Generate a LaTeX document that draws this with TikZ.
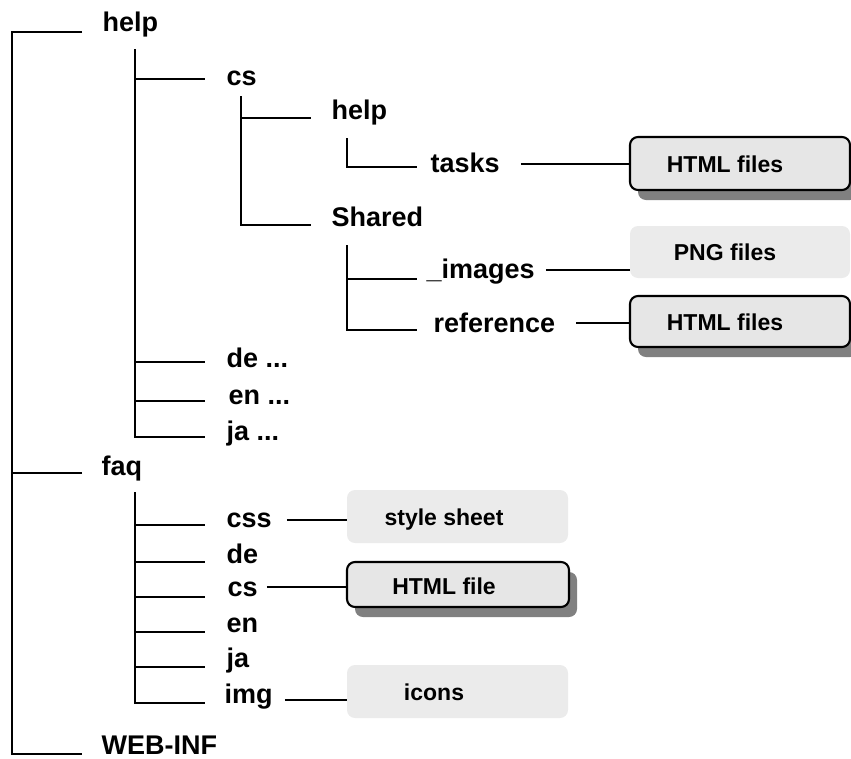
\documentclass[tikz,border=0pt]{standalone}
\usepackage{fontspec}
\setmainfont{Liberation Sans}
\usetikzlibrary{shadows,calc}
\definecolor{boxfill}{HTML}{E6E6E6}
\definecolor{boxfillb}{HTML}{EBEBEB}
\begin{document}
\begin{tikzpicture}[x=1pt,y=-1pt,
  tree/.style={line width=2.8pt},
  conn/.style={line width=2.8pt},
  lbl/.style={anchor=base west,inner sep=0pt,font=\fontsize{27}{31}\selectfont\bfseries},
  boxbase/.style={rounded corners=8pt,minimum width=220pt,minimum height=52pt,inner sep=0pt},
  filebox/.style={boxbase,draw=black,line width=2.1pt,fill=boxfill,
    drop shadow={shadow xshift=8pt,shadow yshift=-10pt,fill=black!50,opacity=1}},
  plainbox/.style={boxbase,fill=boxfillb},
  boxtext/.style={anchor=base,inner sep=0pt,font=\fontsize{23}{27}\selectfont\bfseries}]
\useasboundingbox (0,0) rectangle (851,758);

% ---------- tree labels ----------
\node[lbl] (help)    at (102.5,31)  {help};
\node[lbl] (faq)     at (101.5,475) {faq};
\node[lbl] (webinf)  at (101.5,754) {WEB-INF};
\node[lbl] (cs)      at (226.5,85)  {cs};
\node[lbl] (help3)   at (331.5,119) {help};
\node[lbl] (tasks)   at (430.5,172) {tasks};
\node[lbl] (shared)  at (331.5,226) {Shared};
\node[lbl] (images)  at (426.5,278) {\_images};
\node[lbl] (ref)     at (433.5,332) {reference};
\node[lbl] (de)      at (226.5,367) {de ...};
\node[lbl] (en)      at (228.5,404) {en ...};
\node[lbl] (ja)      at (226.5,440) {ja ...};
\node[lbl] (css)     at (226.5,527) {css};
\node[lbl] (de2)     at (226.5,563) {de};
\node[lbl] (cs2)     at (227.5,596) {cs};
\node[lbl] (en2)     at (226.5,632) {en};
\node[lbl] (ja2)     at (226.5,667) {ja};
\node[lbl] (img)     at (224.5,703) {img};

% ---------- boxes ----------
\node[filebox, minimum height=53pt] (box1) at (740,163.5) {};
\node[boxtext] (box1t) at ([xshift=-15pt,yshift=-8.5pt]box1.center) {HTML files};
\node[plainbox] (png) at (740,252) {};
\node[boxtext] (pngt) at ([xshift=-15pt,yshift=-8pt]png.center) {PNG files};
\node[filebox, minimum height=51pt] (box2) at (740,321.5) {};
\node[boxtext] (box2t) at ([xshift=-15pt,yshift=-8.5pt]box2.center) {HTML files};
\node[plainbox, minimum width=221pt, minimum height=53pt] (style) at (457.5,516.5) {};
\node[boxtext] (stylet) at ([xshift=-13.5pt,yshift=-8.5pt]style.center) {style sheet};
\node[filebox, minimum width=222pt, minimum height=45pt] (hfile) at (458,584.5) {};
\node[boxtext] (hfilet) at ([xshift=-14pt,yshift=-9.5pt]hfile.center) {HTML file};
\node[plainbox, minimum width=221pt, minimum height=53pt] (icons) at (457.5,691.5) {};
\node[boxtext] (iconst) at ([xshift=-23.5pt,yshift=-9pt]icons.center) {icons};

% ---------- tree coordinates ----------
\coordinate (t1) at (12,0);
\coordinate (b-help) at (82,32);
\coordinate (b-faq)  at (82,473);
\coordinate (b-web)  at (82,754);

\coordinate (v-help) at (135,49);
\coordinate (b-cs)   at (205,79);
\coordinate (b-de)   at (205,362);
\coordinate (b-en)   at (205,401);
\coordinate (b-ja)   at (205,437);

\coordinate (v-faq)  at (135,492);
\coordinate (b-css)  at (205,525);
\coordinate (b-de2)  at (205,562);
\coordinate (b-cs2)  at (205,597);
\coordinate (b-en2)  at (205,632);
\coordinate (b-ja2)  at (205,667);
\coordinate (b-img)  at (205,703);

\coordinate (v-cs)     at (241,96);
\coordinate (b-help3)  at (311,118);
\coordinate (b-shared) at (311,225);

\coordinate (v-help3)  at (347,138);
\coordinate (b-tasks)  at (417,167);

\coordinate (v-shared) at (347,245);
\coordinate (b-images) at (417,279);
\coordinate (b-ref)    at (417,330);

% ---------- tree lines ----------
\draw[tree] (b-help) -- (b-help -| t1) -- (b-web -| t1) -- (b-web);
\draw[tree] (b-faq) -- (b-faq -| t1);

\draw[tree] (v-help) -- (b-ja -| v-help) -- (b-ja);
\draw[tree] (b-cs -| v-help) -- (b-cs);
\draw[tree] (b-de -| v-help) -- (b-de);
\draw[tree] (b-en -| v-help) -- (b-en);

\draw[tree] (v-faq) -- (b-img -| v-faq) -- (b-img);
\draw[tree] (b-css -| v-faq) -- (b-css);
\draw[tree] (b-de2 -| v-faq) -- (b-de2);
\draw[tree] (b-cs2 -| v-faq) -- (b-cs2);
\draw[tree] (b-en2 -| v-faq) -- (b-en2);
\draw[tree] (b-ja2 -| v-faq) -- (b-ja2);

\draw[tree] (v-cs) -- (b-shared -| v-cs) -- (b-shared);
\draw[tree] (b-help3 -| v-cs) -- (b-help3);

\draw[tree] (v-help3) -- (b-tasks -| v-help3) -- (b-tasks);

\draw[tree] (v-shared) -- (b-ref -| v-shared) -- (b-ref);
\draw[tree] (b-images -| v-shared) -- (b-images);

% ---------- connectors to boxes ----------
\path ($(tasks.base east)+(21,-8)$)  coordinate (c-tasks);
\path ($(images.base east)+(11,-8)$) coordinate (c-images);
\path ($(ref.base east)+(21,-9)$)    coordinate (c-ref);
\path ($(css.base east)+(15,-7)$)    coordinate (c-css);
\path ($(cs2.base east)+(9,-9)$)     coordinate (c-cs2);
\path ($(img.base east)+(12,-3)$)    coordinate (c-img);
\draw[conn] (c-tasks)  -- (c-tasks -| box1.west);
\draw[conn] (c-images) -- (c-images -| png.west);
\draw[conn] (c-ref)    -- (c-ref -| box2.west);
\draw[conn] (c-css)    -- (c-css -| style.west);
\draw[conn] (c-cs2)    -- (c-cs2 -| hfile.west);
\draw[conn] (c-img)    -- (c-img -| icons.west);
\end{tikzpicture}
\end{document}
